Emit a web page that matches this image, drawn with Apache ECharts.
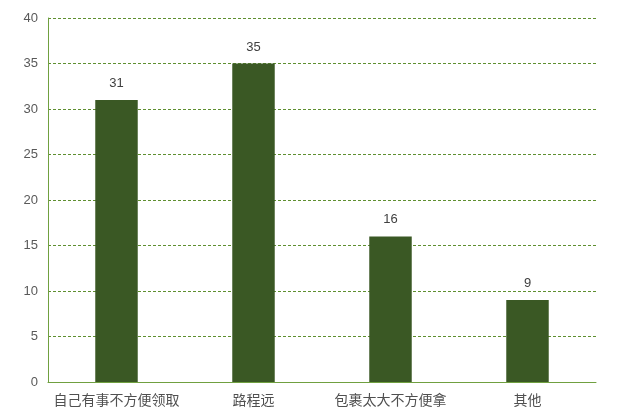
<!DOCTYPE html>
<html><head><meta charset="utf-8">
<script src="https://cdn.jsdelivr.net/npm/echarts@6/dist/echarts.min.js"></script>
<style>html,body{margin:0;padding:0;background:#fff}#c{width:629px;height:418px}</style>
</head><body><div id="c"></div>
<script>
var categories = ['自己有事不方便领取', '路程远', '包裹太大不方便拿', '其他'];
var values = [31, 35, 16, 9];
var yTicks = {min: 0, max: 40, interval: 5};

var chart = echarts.init(document.getElementById('c'));
chart.setOption({
  animation: false,
  grid: {left: 48, right: 33, top: 18, bottom: 36},
  xAxis: {
    type: 'category', data: categories,
    axisLine: {lineStyle: {color: '#70a040', width: 1}},
    axisTick: {show: false},
    axisLabel: {color: '#505050', fontSize: 14, margin: 11, fontFamily: 'Noto Sans CJK SC', interval: 0}
  },
  yAxis: {
    type: 'value', min: yTicks.min, max: yTicks.max, interval: yTicks.interval,
    axisLine: {show: true, lineStyle: {color: '#70a040', width: 1}},
    axisTick: {show: false},
    axisLabel: {color: '#595959', fontSize: 13, margin: 10, fontFamily: 'Liberation Sans'},
    splitLine: {lineStyle: {color: '#5f8f30', type: [3, 2], width: 1}}
  },
  series: [{
    type: 'bar', data: values, barWidth: '31%',
    itemStyle: {color: '#3a5824'},
    label: {show: true, position: 'top', distance: 10, color: '#404040', fontSize: 13, fontFamily: 'Liberation Sans'}
  }]
});
</script></body></html>
